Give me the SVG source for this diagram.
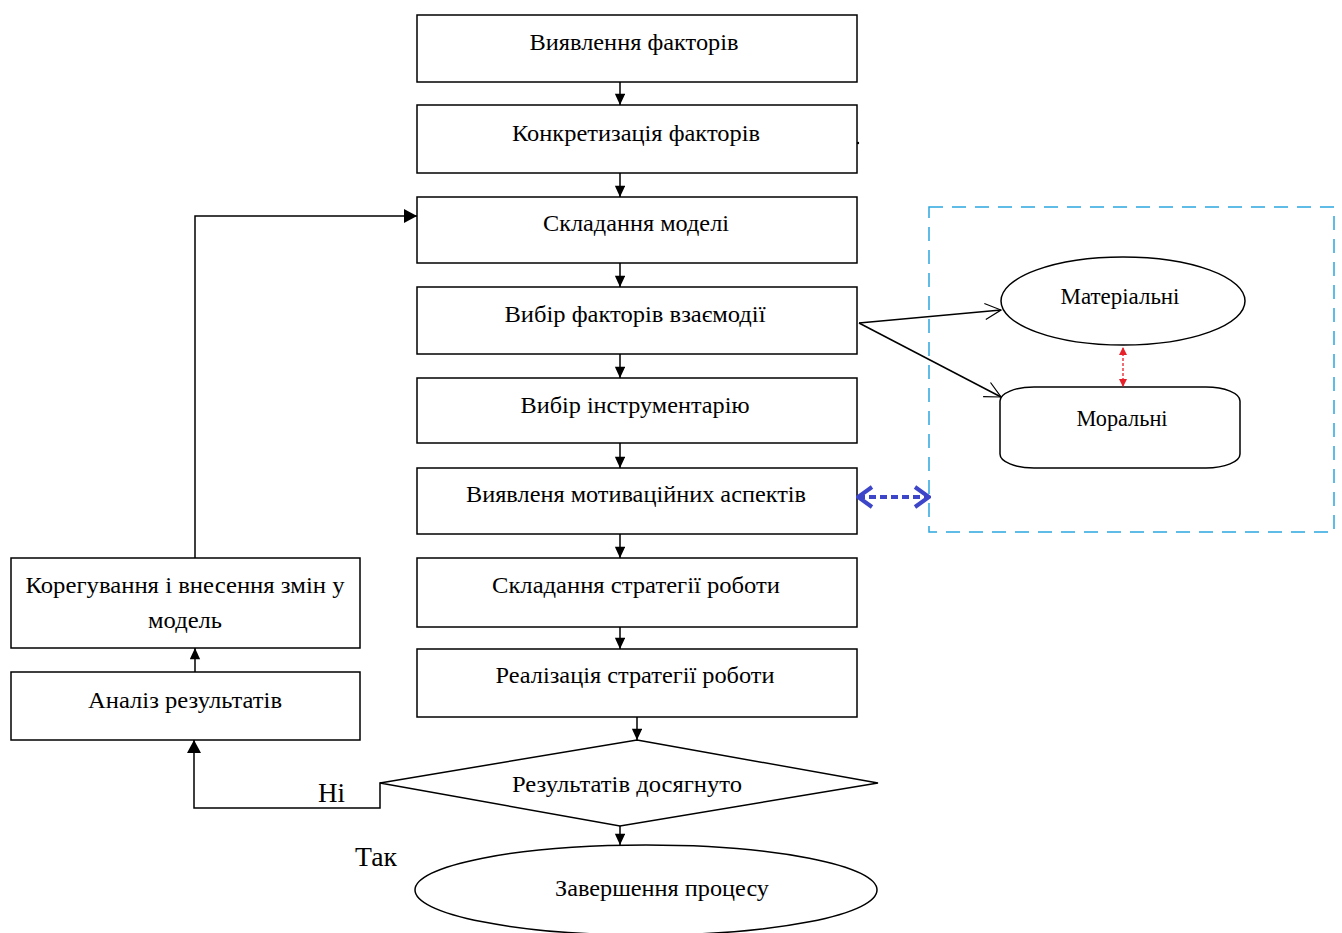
<svg xmlns="http://www.w3.org/2000/svg" width="1342" height="933" viewBox="0 0 1342 933">
<defs>
<style>
.box{fill:#fff;stroke:#000;stroke-width:1.5}
.t{font-family:"Liberation Serif","Times New Roman",serif;font-size:24px;fill:#000;text-anchor:middle}
.c{fill:none;stroke:#000;stroke-width:1.5}
.lbl{font-family:"Liberation Serif","Times New Roman",serif;font-size:28px;fill:#000}
</style>
<marker id="ah" viewBox="0 0 12 14" refX="13" refY="6" markerWidth="12" markerHeight="12" markerUnits="userSpaceOnUse" orient="auto">
<path d="M0,0 L13,6 L0,12 Z" fill="#000"/>
</marker>
<marker id="ahB" viewBox="0 0 14 14" refX="13" refY="7" markerWidth="14" markerHeight="14" markerUnits="userSpaceOnUse" orient="auto">
<path d="M0,0 L13,7 L0,14 Z" fill="#000"/>
</marker>
<marker id="open" viewBox="0 0 20 20" refX="18" refY="10" markerWidth="20" markerHeight="20" markerUnits="userSpaceOnUse" orient="auto">
<path d="M2,2 L18,10 L2,18" fill="none" stroke="#000" stroke-width="1.2"/>
</marker>
<marker id="redA" viewBox="0 0 8 8" refX="7" refY="4" markerWidth="8" markerHeight="8" markerUnits="userSpaceOnUse" orient="auto-start-reverse">
<path d="M0,0 L8,4 L0,8 Z" fill="#e8202a"/>
</marker>
<marker id="blueA" viewBox="0 0 20 24" refX="18" refY="12" markerWidth="20" markerHeight="24" markerUnits="userSpaceOnUse" orient="auto-start-reverse">
<path d="M4,2 L18,12 L4,22" fill="none" stroke="#3d45c9" stroke-width="4"/>
</marker>
</defs>

<g id="n1"><rect class="box" x="417" y="15" width="440" height="67"/><text class="t" x="634" y="50" textLength="209" lengthAdjust="spacingAndGlyphs">Виявлення факторів</text></g>
<g id="n2"><rect class="box" x="417" y="105" width="440" height="68"/><text class="t" x="636" y="141" textLength="248" lengthAdjust="spacingAndGlyphs">Конкретизація факторів</text><circle cx="858" cy="143" r="1.2" fill="#000"/></g>
<g id="n3"><rect class="box" x="417" y="197" width="440" height="66"/><text class="t" x="636" y="231" textLength="186" lengthAdjust="spacingAndGlyphs">Складання моделі</text></g>
<g id="n4"><rect class="box" x="417" y="287" width="440" height="67"/><text class="t" x="635" y="322" textLength="261" lengthAdjust="spacingAndGlyphs">Вибір факторів взаємодії</text></g>
<g id="n5"><rect class="box" x="417" y="378" width="440" height="65"/><text class="t" x="635" y="413" textLength="229" lengthAdjust="spacingAndGlyphs">Вибір інструментарію</text></g>
<g id="n6"><rect class="box" x="417" y="468" width="440" height="66"/><text class="t" x="636" y="502" textLength="340" lengthAdjust="spacingAndGlyphs">Виявленя мотиваційних аспектів</text></g>
<g id="n7"><rect class="box" x="417" y="558" width="440" height="69"/><text class="t" x="636" y="593" textLength="288" lengthAdjust="spacingAndGlyphs">Складання стратегії роботи</text></g>
<g id="n8"><rect class="box" x="417" y="649" width="440" height="68"/><text class="t" x="635" y="683" textLength="279" lengthAdjust="spacingAndGlyphs">Реалізація стратегії роботи</text></g>
<g id="decision"><path class="box" d="M637,740 L878,783 L620,826 L380,783 Z"/><text class="t" x="627" y="792" textLength="230" lengthAdjust="spacingAndGlyphs">Результатів досягнуто</text></g>
<g id="end"><ellipse class="box" cx="646" cy="890" rx="231" ry="45"/><text class="t" x="662" y="896" textLength="214" lengthAdjust="spacingAndGlyphs">Завершення процесу</text></g>
<g id="correct"><rect class="box" x="11" y="558" width="349" height="90"/><text class="t" x="185" y="593" textLength="319" lengthAdjust="spacingAndGlyphs">Корегування і внесення змін у</text><text class="t" x="185" y="628" textLength="74" lengthAdjust="spacingAndGlyphs">модель</text></g>
<g id="analysis"><rect class="box" x="11" y="672" width="349" height="68"/><text class="t" x="185" y="708" textLength="194" lengthAdjust="spacingAndGlyphs">Аналіз результатів</text></g>
<g id="group"><rect x="929" y="207" width="405" height="325" fill="none" stroke="#2ba6e0" stroke-width="1.5" stroke-dasharray="14,9"/></g>
<g id="material"><ellipse class="box" cx="1123" cy="301" rx="122" ry="44"/><text class="t" x="1120" y="304" textLength="119" lengthAdjust="spacingAndGlyphs">Матеріальні</text></g>
<g id="moral"><rect class="box" x="1000" y="387" width="240" height="81" rx="34" ry="14"/><text class="t" x="1122" y="426" textLength="91" lengthAdjust="spacingAndGlyphs">Моральні</text></g>

<g id="connectors">
<line class="c" x1="620" y1="82" x2="620" y2="105" marker-end="url(#ah)"/>
<line class="c" x1="620" y1="173" x2="620" y2="197" marker-end="url(#ah)"/>
<line class="c" x1="620" y1="263" x2="620" y2="287" marker-end="url(#ah)"/>
<line class="c" x1="620" y1="354" x2="620" y2="378" marker-end="url(#ah)"/>
<line class="c" x1="620" y1="443" x2="620" y2="468" marker-end="url(#ah)"/>
<line class="c" x1="620" y1="534" x2="620" y2="558" marker-end="url(#ah)"/>
<line class="c" x1="620" y1="627" x2="620" y2="649" marker-end="url(#ah)"/>
<line class="c" x1="637" y1="717" x2="637" y2="740" marker-end="url(#ah)"/>
<line class="c" x1="620" y1="826" x2="620" y2="845" marker-end="url(#ah)"/>
<path class="c" d="M382,783 L380,783 L380,808 L194,808 L194,740" stroke-width="2" marker-end="url(#ahB)"/>
<line class="c" x1="195" y1="672" x2="195" y2="648" stroke-width="2" marker-end="url(#ah)"/>
<path class="c" d="M195,558 L195,216 L417,216" stroke-width="2.5" marker-end="url(#ahB)"/>
<line class="c" x1="859" y1="323" x2="1001" y2="310" stroke-width="1.2" marker-end="url(#open)"/>
<line class="c" x1="859" y1="323" x2="1001" y2="397" stroke-width="1.2" marker-end="url(#open)"/>
<line x1="1123" y1="348" x2="1123" y2="386" stroke="#e8202a" stroke-width="1.3" stroke-dasharray="3,2" marker-start="url(#redA)" marker-end="url(#redA)"/>
<line x1="858" y1="497" x2="929" y2="497" stroke="#3d45c9" stroke-width="4" stroke-dasharray="7,4" marker-start="url(#blueA)" marker-end="url(#blueA)"/>
</g>
<text class="lbl" x="318" y="802" textLength="27" lengthAdjust="spacingAndGlyphs">Hi</text>
<text class="lbl" x="355" y="866" textLength="42" lengthAdjust="spacingAndGlyphs">Так</text>
</svg>
